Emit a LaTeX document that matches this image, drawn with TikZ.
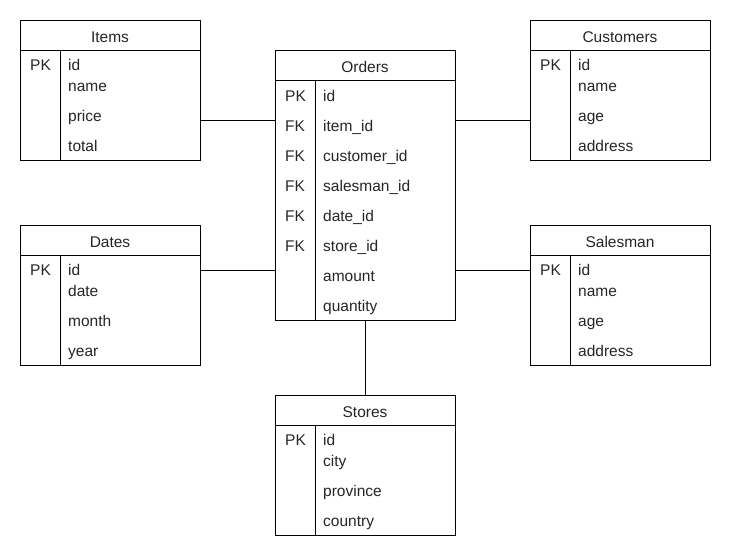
\documentclass[tikz,border=0pt]{standalone}
\usepackage{fontspec}
\setmainfont{Liberation Sans}
\begin{document}
\begin{tikzpicture}[x=1pt,y=-1pt,
  tbl/.style={draw, line width=1pt, minimum width=180pt, inner sep=0pt, outer sep=0pt},
  rule/.style={line width=1pt},
  link/.style={line width=1pt},
  txt/.style={inner sep=0pt, anchor=base west, text=black!85, font=\fontsize{15.5}{18}\selectfont},
  hdr/.style={inner sep=0pt, anchor=base, text=black!85, font=\fontsize{15.5}{18}\selectfont}]
\useasboundingbox[fill=white] (0,0) rectangle (731,557);

% #1 name, #2 x, #3 y, #4 height, #5 title
\newcommand{\ertable}[5]{%
  \node[tbl, minimum height=#4pt, anchor=north west] (#1) at (#2,#3) {};
  \draw[rule] (#2,#3+30) -- (#2+180,#3+30);
  \draw[rule] (#2+40,#3+30) -- (#2+40,#3+#4);
  \node[hdr] (#1-title) at (#2+90,#3+22) {#5};
}
% #1 table, #2 x, #3 y, #4 offset, #5 key, #6 field
\newcommand{\errow}[6]{%
  \node[txt] (#1-k#4) at (#2+10,#3+#4) {#5};
  \node[txt] (#1-f#4) at (#2+48,#3+#4) {#6};
}

% Items
\ertable{items}{20}{20}{140}{Items}
\errow{items}{20}{20}{50}{PK}{id}
\errow{items}{20}{20}{71}{}{name}
\errow{items}{20}{20}{101}{}{price}
\errow{items}{20}{20}{131}{}{total}

% Customers
\ertable{cust}{530}{20}{140}{Customers}
\errow{cust}{530}{20}{50}{PK}{id}
\errow{cust}{530}{20}{71}{}{name}
\errow{cust}{530}{20}{101}{}{age}
\errow{cust}{530}{20}{131}{}{address}

% Dates
\ertable{dates}{20}{225}{140}{Dates}
\errow{dates}{20}{225}{50}{PK}{id}
\errow{dates}{20}{225}{71}{}{date}
\errow{dates}{20}{225}{101}{}{month}
\errow{dates}{20}{225}{131}{}{year}

% Salesman
\ertable{sales}{530}{225}{140}{Salesman}
\errow{sales}{530}{225}{50}{PK}{id}
\errow{sales}{530}{225}{71}{}{name}
\errow{sales}{530}{225}{101}{}{age}
\errow{sales}{530}{225}{131}{}{address}

% Stores
\ertable{stores}{275}{395}{140}{Stores}
\errow{stores}{275}{395}{50}{PK}{id}
\errow{stores}{275}{395}{71}{}{city}
\errow{stores}{275}{395}{101}{}{province}
\errow{stores}{275}{395}{131}{}{country}

% Orders (fact table)
\ertable{orders}{275}{50}{270}{Orders}
\errow{orders}{275}{50}{51}{PK}{id}
\errow{orders}{275}{50}{81}{FK}{item\_id}
\errow{orders}{275}{50}{111}{FK}{customer\_id}
\errow{orders}{275}{50}{141}{FK}{salesman\_id}
\errow{orders}{275}{50}{171}{FK}{date\_id}
\errow{orders}{275}{50}{201}{FK}{store\_id}
\errow{orders}{275}{50}{231}{}{amount}
\errow{orders}{275}{50}{261}{}{quantity}

% relationships
\draw[link] ([yshift=-30pt]items.east) -- ([yshift=-30pt]items.east -| orders.west);
\draw[link] ([yshift=-30pt]cust.west) -- ([yshift=-30pt]cust.west -| orders.east);
\draw[link] ([yshift=25pt]dates.east) -- ([yshift=25pt]dates.east -| orders.west);
\draw[link] ([yshift=25pt]sales.west) -- ([yshift=25pt]sales.west -| orders.east);
\draw[link] (orders.south) -- (stores.north);
\end{tikzpicture}
\end{document}
